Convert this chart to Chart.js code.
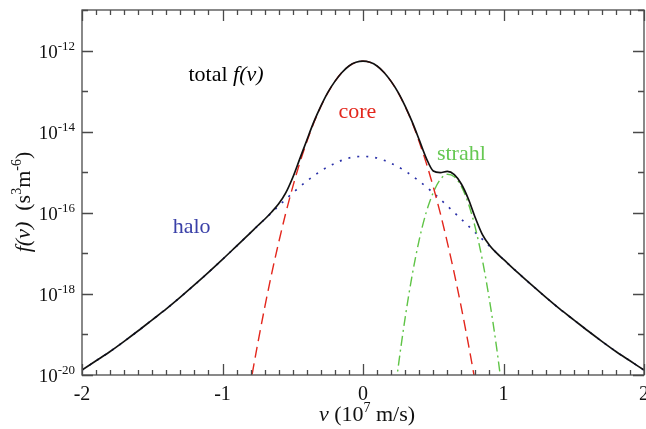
<!DOCTYPE html>
<html>
<head>
<meta charset="utf-8">
<script src="https://cdn.jsdelivr.net/npm/chart.js@4.4.0/dist/chart.umd.min.js"></script>
<style>
  html, body { margin: 0; padding: 0; background: #fff; }
  canvas { display: block; }
</style>
</head>
<body>
<canvas id="chart" width="646" height="429"></canvas>
<script>
// velocity (10^7 m/s) and log10 f(v)
const vTotal = [-2, -1.9, -1.8, -1.7, -1.6, -1.5, -1.4, -1.3, -1.2, -1.1, -1.0, -0.9,
    -0.8, -0.75, -0.7, -0.65, -0.6, -0.55, -0.5, -0.45, -0.4, -0.35, -0.3, -0.25, -0.2, -0.15, -0.1, -0.05,
    0, 0.05, 0.1, 0.15, 0.2, 0.25, 0.3, 0.35, 0.4, 0.45, 0.5, 0.55, 0.6, 0.65, 0.7, 0.75, 0.8, 0.85, 0.9, 0.95,
    1.0, 1.1, 1.2, 1.3, 1.4, 1.5, 1.6, 1.7, 1.8, 1.9, 2.0];
const logTotal = [-19.88, -19.65, -19.42, -19.17, -18.91, -18.64, -18.37, -18.08, -17.78, -17.47, -17.15, -16.82,
    -16.49, -16.32, -16.16, -15.98, -15.78, -15.51, -15.13, -14.67, -14.21, -13.76, -13.37, -13.03, -12.76, -12.54, -12.38, -12.29,
    -12.26, -12.29, -12.38, -12.54, -12.76, -13.03, -13.37, -13.76, -14.20, -14.65, -14.97, -15.01, -14.98, -15.06, -15.29, -15.66, -16.13, -16.54, -16.80, -16.99,
    -17.15, -17.47, -17.78, -18.08, -18.37, -18.64, -18.91, -19.17, -19.42, -19.65, -19.88];

const vHalo = [-2, -1.9, -1.8, -1.7, -1.6, -1.5, -1.4, -1.3, -1.2, -1.1, -1.0, -0.9, -0.8, -0.7, -0.6, -0.5, -0.4, -0.3, -0.2, -0.1,
    0, 0.1, 0.2, 0.3, 0.4, 0.5, 0.6, 0.7, 0.8, 0.9, 1.0, 1.1, 1.2, 1.3, 1.4, 1.5, 1.6, 1.7, 1.8, 1.9, 2.0];
const logHalo = [-19.88, -19.65, -19.42, -19.17, -18.91, -18.64, -18.37, -18.08, -17.78, -17.47, -17.15, -16.82, -16.49, -16.16, -15.83, -15.51, -15.22, -14.97, -14.78, -14.65,
    -14.61, -14.65, -14.78, -14.97, -15.22, -15.51, -15.83, -16.16, -16.49, -16.82, -17.15, -17.47, -17.78, -18.08, -18.37, -18.64, -18.91, -19.17, -19.42, -19.65, -19.88];

const vCore = [-0.85, -0.8, -0.75, -0.7, -0.65, -0.6, -0.55, -0.5, -0.45, -0.4, -0.35, -0.3, -0.25, -0.2, -0.15, -0.1, -0.05,
    0, 0.05, 0.1, 0.15, 0.2, 0.25, 0.3, 0.35, 0.4, 0.45, 0.5, 0.55, 0.6, 0.65, 0.7, 0.75, 0.8, 0.85];
const logCore = [-21.23, -20.20, -19.24, -18.34, -17.50, -16.73, -16.01, -15.36, -14.77, -14.25, -13.78, -13.38, -13.04, -12.76, -12.54, -12.38, -12.29,
    -12.26, -12.29, -12.38, -12.54, -12.76, -13.04, -13.38, -13.78, -14.25, -14.77, -15.36, -16.01, -16.73, -17.50, -18.34, -19.24, -20.20, -21.23];

const vStrahl = [0.2, 0.25, 0.3, 0.35, 0.4, 0.45, 0.5, 0.55, 0.6, 0.65, 0.7, 0.75, 0.8, 0.85, 0.9, 0.95, 1.0];
const logStrahl = [-21.24, -19.82, -18.59, -17.54, -16.67, -15.99, -15.50, -15.18, -15.05, -15.11, -15.35, -15.77, -16.38, -17.17, -18.15, -19.30, -20.65];

const xTickLabels = ['-2', '-1', '0', '1', '2'];
const yTickExps = ['-12', '-14', '-16', '-18', '-20'];

// text labels inside the plot: [text runs, v, log10 f, colour]
const notes = [
    [[['total ', 'n'], ['f(v)', 'i']], -0.975, -12.56, '#000'],
    [[['core', 'n']], -0.04, -13.48, '#e3261c'],
    [[['strahl', 'n']], 0.70, -14.52, '#66c852'],
    [[['halo', 'n']], -1.22, -16.31, '#3a40a8']
];

const FONT = '"Liberation Serif", "DejaVu Serif", serif';

function toPoints(vs, logs) {
    return vs.map((v, i) => ({ x: v, y: Math.pow(10, logs[i]) }));
}

// draws text made of normal / italic / superscript pieces, centred on (cx, cy)
function drawRuns(ctx, runs, cx, cy, size) {
    const fontOf = s => s === 'i' ? `italic ${size}px ${FONT}` :
        s === 's' ? `${Math.round(size * 0.65)}px ${FONT}` : `${size}px ${FONT}`;
    let w = 0;
    runs.forEach(r => { ctx.font = fontOf(r[1]); w += ctx.measureText(r[0]).width; });
    let x = cx - w / 2;
    const base = cy + size * 0.33;
    ctx.textAlign = 'left';
    ctx.textBaseline = 'alphabetic';
    runs.forEach(r => {
        ctx.font = fontOf(r[1]);
        ctx.fillText(r[0], x, r[1] === 's' ? base - size * 0.42 : base);
        x += ctx.measureText(r[0]).width;
    });
}

const framePlugin = {
    id: 'frame',
    afterDraw(chart) {
        const { ctx, chartArea: a, scales: { x, y } } = chart;
        ctx.save();
        ctx.strokeStyle = '#4a4a4a';
        ctx.lineWidth = 1.3;
        ctx.strokeRect(a.left, a.top, a.right - a.left, a.bottom - a.top);

        // inward ticks on all four sides
        ctx.beginPath();
        for (let i = -20; i <= 20; i++) {
            const px = Math.round(x.getPixelForValue(i / 10)) + 0.5;
            const len = i % 10 === 0 ? 11 : 5;
            ctx.moveTo(px, a.bottom); ctx.lineTo(px, a.bottom - len);
            ctx.moveTo(px, a.top); ctx.lineTo(px, a.top + len);
        }
        for (let e = -20; e <= -11; e++) {
            const py = Math.round(y.getPixelForValue(Math.pow(10, e))) + 0.5;
            const len = e % 2 === 0 ? 11 : 6;
            ctx.moveTo(a.left, py); ctx.lineTo(a.left + len, py);
            ctx.moveTo(a.right, py); ctx.lineTo(a.right - len, py);
        }
        ctx.stroke();

        ctx.fillStyle = '#111';
        // x tick labels
        ctx.font = `20px ${FONT}`;
        ctx.textAlign = 'center';
        ctx.textBaseline = 'middle';
        xTickLabels.forEach(t => {
            ctx.fillText(t, x.getPixelForValue(Number(t)), a.bottom + 20);
        });
        // y tick labels 10^n
        yTickExps.forEach(t => {
            const py = y.getPixelForValue(Math.pow(10, Number(t)));
            ctx.font = `13px ${FONT}`;
            const sw = ctx.measureText(t).width;
            const right = a.left - 7;
            ctx.textAlign = 'left';
            ctx.textBaseline = 'alphabetic';
            ctx.fillText(t, right - sw, py - 1);
            ctx.font = `19px ${FONT}`;
            ctx.textAlign = 'right';
            ctx.fillText('10', right - sw, py + 7);
        });

        // axis titles
        drawRuns(ctx, [['v', 'i'], [' (10', 'n'], ['7', 's'], [' m/s)', 'n']], 367, 414, 22);
        ctx.save();
        ctx.translate(23, 202);
        ctx.rotate(-Math.PI / 2);
        drawRuns(ctx, [['f(v)', 'i'], ['  (s', 'n'], ['3', 's'], ['m', 'n'], ['-6', 's'], [')', 'n']], 0, 0, 22);
        ctx.restore();

        // in-plot labels
        notes.forEach(n => {
            ctx.fillStyle = n[3];
            drawRuns(ctx, n[0], x.getPixelForValue(n[1]), y.getPixelForValue(Math.pow(10, n[2])), 22);
        });
        ctx.restore();
    }
};

const ctx = document.getElementById('chart').getContext('2d');
const chart = new Chart(ctx, {
    type: 'line',
    data: {
        datasets: [
            { label: 'total', data: toPoints(vTotal, logTotal), borderColor: '#111', borderWidth: 1.7 },
            { label: 'core', data: toPoints(vCore, logCore), borderColor: '#e3261c', borderWidth: 1.4, borderDash: [11, 6] },
            { label: 'strahl', data: toPoints(vStrahl, logStrahl), borderColor: '#5fc446', borderWidth: 1.4, borderDash: [10, 4, 2, 4] },
            { label: 'halo', data: toPoints(vHalo, logHalo), borderColor: '#2a30a8', borderWidth: 1.7, borderDash: [2, 7] }
        ].map(d => Object.assign(d, { pointRadius: 0, fill: false, cubicInterpolationMode: 'monotone' }))
    },
    options: {
        responsive: false,
        animation: false,
        layout: { padding: { top: 10, right: 2, left: 0, bottom: 0 } },
        plugins: { legend: { display: false }, tooltip: { enabled: false } },
        scales: {
            x: {
                type: 'linear', min: -2, max: 2,
                ticks: { display: false }, grid: { display: false }, border: { display: false },
                afterFit: s => { s.height = 54; }
            },
            y: {
                type: 'logarithmic', min: 1e-20, max: 1e-11,
                ticks: { display: false }, grid: { display: false }, border: { display: false },
                afterFit: s => { s.width = 82; }
            }
        }
    },
    plugins: [framePlugin]
});
</script>
</body>
</html>
